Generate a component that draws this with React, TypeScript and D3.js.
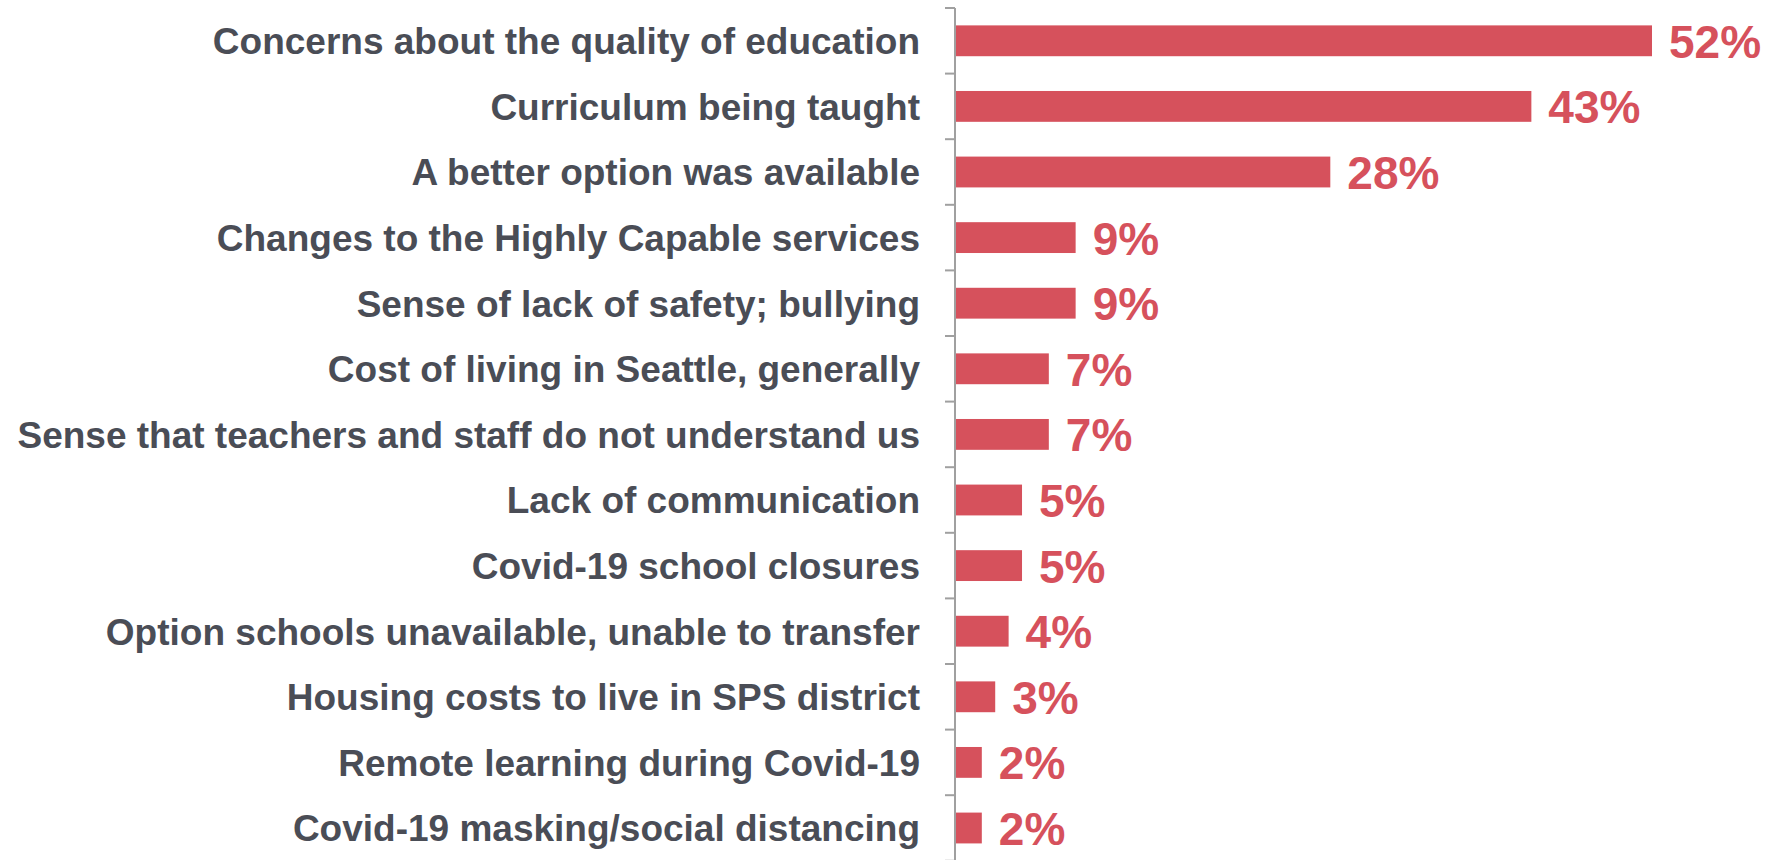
import React from "react";
import * as d3 from "d3";

const categories = [
  "Concerns about the quality of education",
  "Curriculum being taught",
  "A better option was available",
  "Changes to the Highly Capable services",
  "Sense of lack of safety; bullying",
  "Cost of living in Seattle, generally",
  "Sense that teachers and staff do not understand us",
  "Lack of communication",
  "Covid-19 school closures",
  "Option schools unavailable, unable to transfer",
  "Housing costs to live in SPS district",
  "Remote learning during Covid-19",
  "Covid-19 masking/social distancing",
];

const values = [52, 43, 28, 9, 9, 7, 7, 5, 5, 4, 3, 2, 2];

const width = 1770;
const height = 860;
const axisX = 955;
const top = 8;
const step = 65.6;

const App = () => {
  const x = d3.scaleLinear().domain([0, 52]).range([axisX, 1652]);

  const y = d3
    .scaleBand<string>()
    .domain(categories)
    .range([top, top + step * categories.length])
    .paddingInner(0.53)
    .paddingOuter(0.265);

  const gap = (y.step() - y.bandwidth()) / 2;
  const ticks = categories.map((c) => (y(c) as number) - gap);
  ticks.push(top + y.step() * categories.length);

  return (
    <svg
      width={width}
      height={height}
      style={{ position: "absolute", left: 0, top: 0, background: "#fff" }}
      fontFamily="'Liberation Sans', Arial, sans-serif"
      fontWeight="bold"
    >
      {categories.map((c, i) => {
        const yc = (y(c) as number) + y.bandwidth() / 2;
        return (
          <g key={c}>
            <rect
              x={x(0)}
              y={y(c)}
              width={x(values[i]) - x(0)}
              height={y.bandwidth()}
              fill="#d6515c"
            />
            <text
              x={axisX - 35}
              y={yc}
              dy="0.36em"
              textAnchor="end"
              fontSize={37}
              fill="#4a4d56"
            >
              {c}
            </text>
            <text
              x={x(values[i]) + 17}
              y={yc}
              dy="0.37em"
              fontSize={46}
              fill="#d6515c"
            >
              {values[i]}%
            </text>
          </g>
        );
      })}
      <line x1={axisX} x2={axisX} y1={ticks[0]} y2={ticks[ticks.length - 1]} stroke="#a0a0a0" strokeWidth={2} />
      {ticks.map((t, i) => (
        <line key={i} x1={axisX - 10} x2={axisX} y1={t} y2={t} stroke="#a0a0a0" strokeWidth={2} />
      ))}
    </svg>
  );
};

export default App;
